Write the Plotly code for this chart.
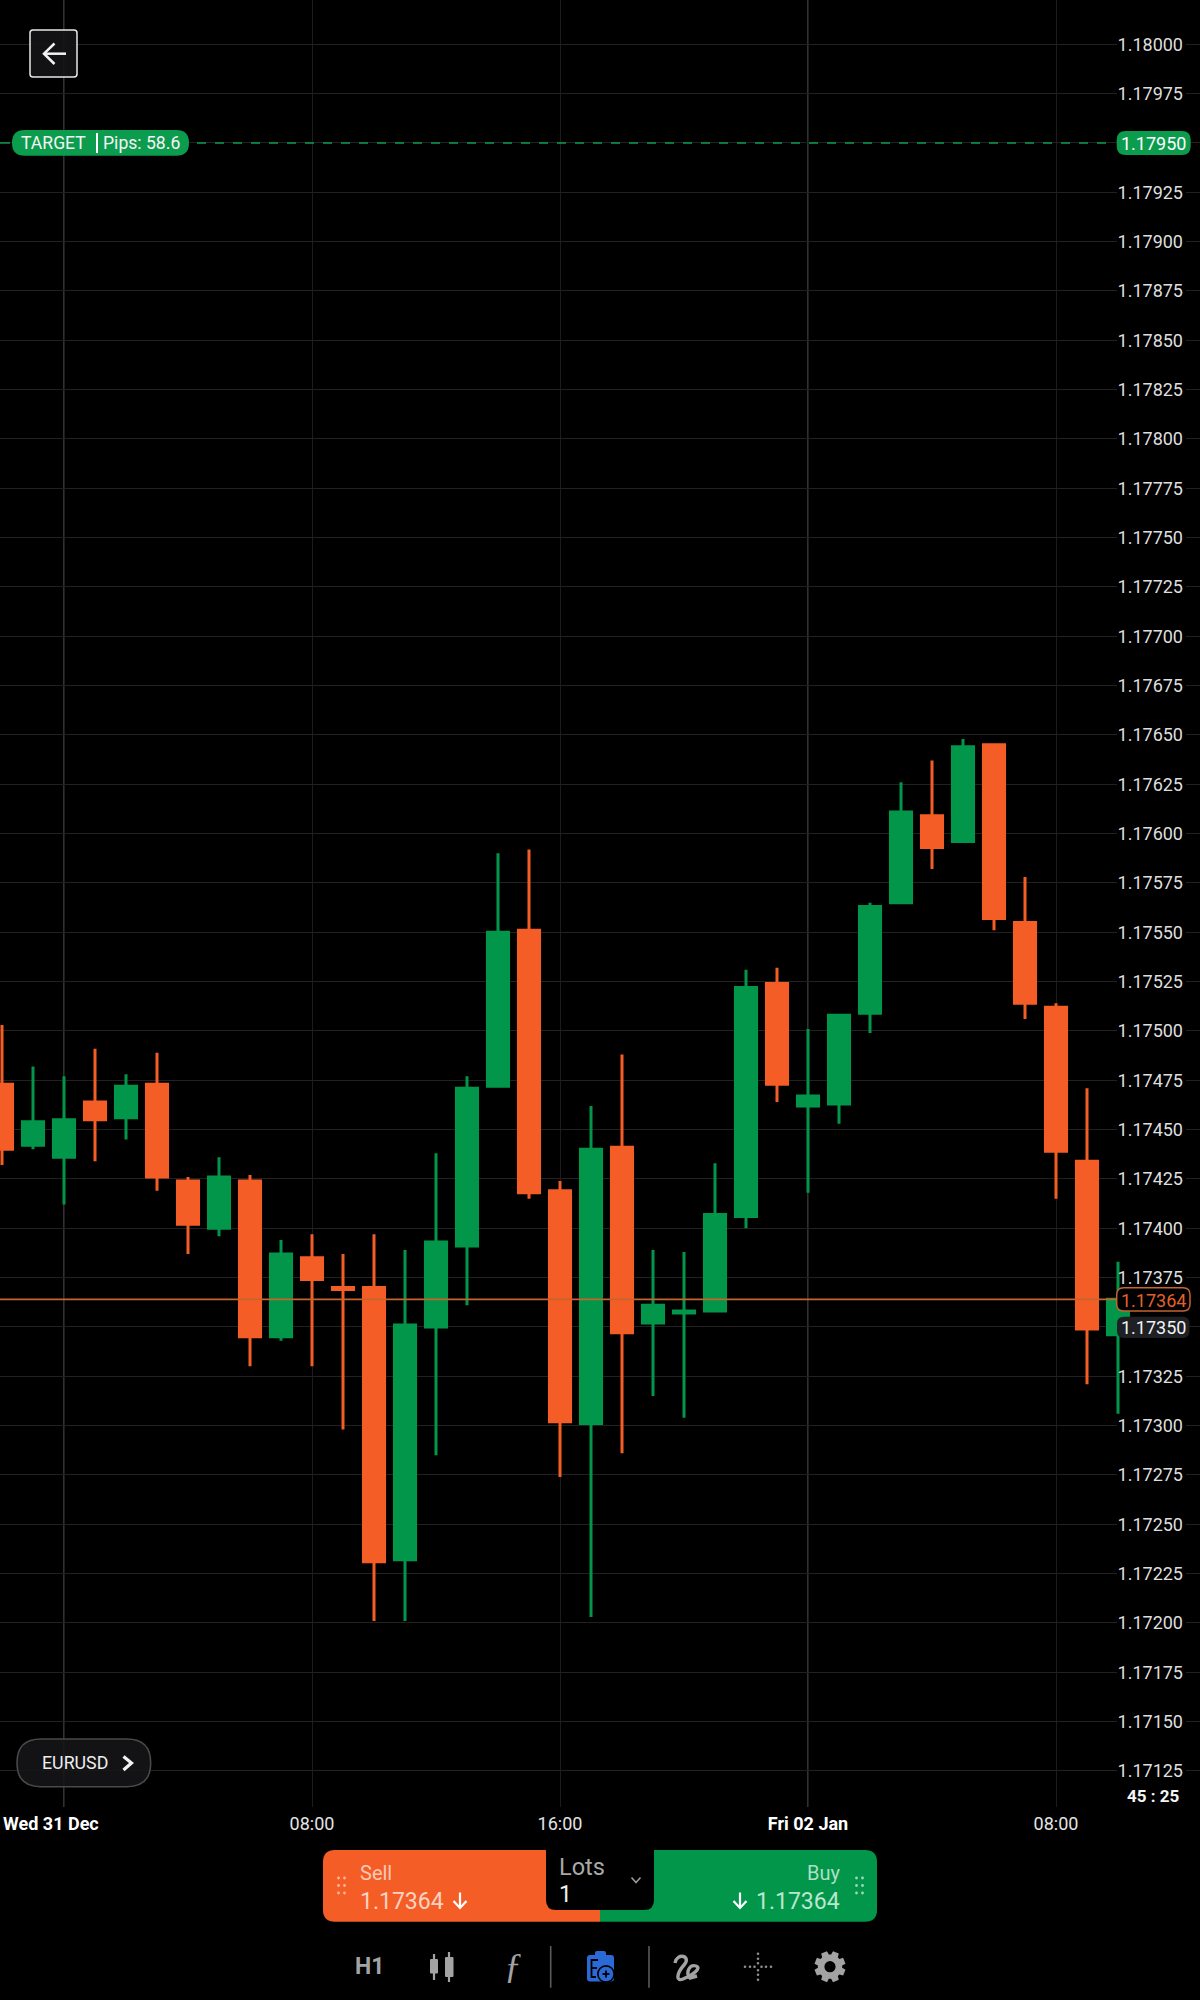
import math
import plotly.graph_objects as go

# Hourly EURUSD candles
HOUR_INDEX = list(range(37))
OPEN = [1.17473, 1.17442, 1.17436, 1.17464, 1.17456, 1.17473, 1.17424, 1.17400, 1.17424, 1.17345,
        1.17385, 1.17370, 1.17370, 1.17232, 1.17350, 1.17391, 1.17472, 1.17551, 1.17419, 1.17301,
        1.17441, 1.17352, 1.17357, 1.17358, 1.17406, 1.17524, 1.17462, 1.17463, 1.17509, 1.17565,
        1.17609, 1.17596, 1.17645, 1.17555, 1.17512, 1.17434, 1.17346]
HIGH = [1.17503, 1.17482, 1.17477, 1.17491, 1.17478, 1.17489, 1.17426, 1.17436, 1.17427, 1.17394,
        1.17397, 1.17387, 1.17397, 1.17389, 1.17438, 1.17477, 1.17590, 1.17592, 1.17424, 1.17462,
        1.17488, 1.17389, 1.17388, 1.17433, 1.17531, 1.17532, 1.17501, 1.17508, 1.17565, 1.17626,
        1.17637, 1.17648, 1.17645, 1.17578, 1.17514, 1.17471, 1.17383]
LOW = [1.17432, 1.17440, 1.17412, 1.17434, 1.17445, 1.17419, 1.17387, 1.17396, 1.17330, 1.17343,
       1.17330, 1.17298, 1.17201, 1.17201, 1.17285, 1.17361, 1.17472, 1.17415, 1.17274, 1.17203,
       1.17286, 1.17315, 1.17304, 1.17358, 1.17400, 1.17464, 1.17418, 1.17453, 1.17499, 1.17565,
       1.17582, 1.17596, 1.17551, 1.17506, 1.17415, 1.17321, 1.17306]
CLOSE = [1.17440, 1.17454, 1.17455, 1.17455, 1.17472, 1.17426, 1.17402, 1.17426, 1.17345, 1.17387,
         1.17374, 1.17369, 1.17231, 1.17351, 1.17393, 1.17471, 1.17550, 1.17418, 1.17302, 1.17440,
         1.17347, 1.17361, 1.17358, 1.17407, 1.17522, 1.17473, 1.17467, 1.17508, 1.17563, 1.17611,
         1.17593, 1.17644, 1.17557, 1.17514, 1.17439, 1.17349, 1.17364]

PRICE_TICKS = [1.18000, 1.17975, 1.17950, 1.17925, 1.17900, 1.17875, 1.17850, 1.17825, 1.17800,
               1.17775, 1.17750, 1.17725, 1.17700, 1.17675, 1.17650, 1.17625, 1.17600, 1.17575,
               1.17550, 1.17525, 1.17500, 1.17475, 1.17450, 1.17425, 1.17400, 1.17375, 1.17350,
               1.17325, 1.17300, 1.17275, 1.17250, 1.17225, 1.17200, 1.17175, 1.17150, 1.17125]
BADGED_TICKS = [1.17950, 1.17350]
TIME_TICKS = [2, 10, 18, 26, 34]
TIME_LABELS = ["", "08:00", "16:00", "<b><span style='color:#ffffff'>Fri 02 Jan</span></b>", "08:00"]
DAY_STARTS = [2, 26]

CURRENT_PRICE = 1.17364
TARGET_PRICE = 1.17950

ORANGE = "#F45E26"
GREEN = "#02964A"
PILL_GREEN = "#0C9C4E"
GRID = "#212121"
FONT = "Roboto"

W, H = 1200, 2000
PLOT_H = 1807
Y_RANGE = [1.171067, 1.1802245]
X_RANGE = [-2 / 31, 1198 / 31]


def px(x):
    return x / W


def py(y):
    return 1 - y / PLOT_H


def rounded(x0, y0, x1, y1, r):
    """Closed rounded-rectangle path in page pixels; r is (tl, tr, br, bl) or one radius."""
    tl, tr, br, bl = (r, r, r, r) if isinstance(r, (int, float)) else r
    pts = [
        f"M{px(x0 + tl)},{py(y0)}", f"L{px(x1 - tr)},{py(y0)}",
        f"Q{px(x1)},{py(y0)} {px(x1)},{py(y0 + tr)}", f"L{px(x1)},{py(y1 - br)}",
        f"Q{px(x1)},{py(y1)} {px(x1 - br)},{py(y1)}", f"L{px(x0 + bl)},{py(y1)}",
        f"Q{px(x0)},{py(y1)} {px(x0)},{py(y1 - bl)}", f"L{px(x0)},{py(y0 + tl)}",
        f"Q{px(x0)},{py(y0)} {px(x0 + tl)},{py(y0)}", "Z",
    ]
    return " ".join(pts)


def poly(points, close=False):
    body = " ".join(("M" if i == 0 else "L") + f"{px(x)},{py(y)}" for i, (x, y) in enumerate(points))
    return body + (" Z" if close else "")


shapes = []
annotations = []


def box(x0, y0, x1, y1, r, fill, line=None, width=0):
    shapes.append(dict(type="path", xref="paper", yref="paper", layer="above", path=rounded(x0, y0, x1, y1, r),
                       fillcolor=fill, line=dict(color=line or fill, width=width)))


def stroke(points, color, width):
    shapes.append(dict(type="path", xref="paper", yref="paper", layer="above", path=poly(points),
                       fillcolor="rgba(0,0,0,0)", line=dict(color=color, width=width)))


def dot(x, y, r, color):
    shapes.append(dict(type="circle", xref="paper", yref="paper", layer="above",
                       x0=px(x - r), x1=px(x + r), y0=py(y + r), y1=py(y - r),
                       fillcolor=color, line=dict(width=0)))


def label(text, x, y, size, color, anchor="left", family=FONT):
    annotations.append(dict(text=text, x=px(x), y=py(y), xref="paper", yref="paper", xanchor=anchor,
                            yanchor="middle", showarrow=False, borderpad=0,
                            font=dict(family=family, size=size, color=color)))


def to_x(pixel):
    return X_RANGE[0] + pixel / W * (X_RANGE[1] - X_RANGE[0])


# Blank strip behind the price scale; it cuts the gridlines but stays under the candles
shapes.append(dict(type="rect", xref="x", yref="y", layer="between", x0=to_x(1117), x1=to_x(1186),
                   y0=Y_RANGE[0], y1=Y_RANGE[1], fillcolor="#000000", line=dict(width=0)))

# Day separators
for d in DAY_STARTS:
    shapes.append(dict(type="line", xref="x", yref="paper", layer="between", x0=d, x1=d, y0=0, y1=1,
                       line=dict(color="#424242", width=1.5)))

# Current price line and target line
shapes.append(dict(type="line", xref="paper", yref="y", layer="above", x0=0, x1=px(1117),
                   y0=CURRENT_PRICE, y1=CURRENT_PRICE, line=dict(color="#C4642F", width=1.8)))
shapes.append(dict(type="line", xref="paper", yref="y", layer="above", x0=px(197), x1=px(1108),
                   y0=TARGET_PRICE, y1=TARGET_PRICE, line=dict(color=PILL_GREEN, width=1.5, dash="9px,9px")))
shapes.append(dict(type="line", xref="paper", yref="y", layer="above", x0=0, x1=px(10),
                   y0=TARGET_PRICE, y1=TARGET_PRICE, line=dict(color=PILL_GREEN, width=1.5)))

# Back button
box(30, 30, 77, 77, 3, "rgba(20,20,23,0.92)", "#E8E8E8", 1.5)
stroke([(66, 53.7), (44, 53.7)], "#F2F2F2", 2.5)
stroke([(54.5, 43.5), (44, 53.7), (54.5, 64)], "#F2F2F2", 2.5)

# Target badge
box(12, 130, 189, 155.7, 12.8, PILL_GREEN)
stroke([(97, 133), (97, 153)], "#FFFFFF", 2)
label("TARGET", 20, 143, 17.6, "#F4F4F4")
label("Pips: 58.6", 101.5, 143, 17.6, "#F4F4F4")

# Price scale badges
box(1116.7, 131, 1190.7, 155, 9, PILL_GREEN)
label("1.17950", 1153.5, 143.5, 18, "#FFFFFF", "center")
box(1117, 1316.7, 1189.5, 1338, 7, "#1F2024")
label("1.17350", 1153.5, 1327.5, 18, "#F2F2F2", "center")
box(1116.7, 1287.7, 1190, 1311, 7, "#000000", "#C4642F", 1.5)
label("1.17364", 1153.5, 1300, 18, "#E2622A", "center")

# Symbol button
box(17, 1739, 150.7, 1786.7, 23.8, "rgba(22,22,25,0.88)", "#4A4A4A", 1.5)
label("EURUSD", 41, 1762.5, 17.8, "#EDEDED")
stroke([(123.5, 1756.5), (131.5, 1763), (123.5, 1770)], "#F2F2F2", 3.2)

# Axis footer text
label("<b>Wed 31 Dec</b>", 2, 1823, 18, "#FFFFFF")
label("<b>45 : 25</b>", 1153, 1796, 17, "#F5F5F5", "center")

# Order panel
box(323, 1850, 600, 1921.7, (12, 0, 0, 12), ORANGE)
box(600, 1850, 877, 1921.7, (0, 12, 12, 0), GREEN)
box(546, 1850, 654, 1910, (0, 0, 10, 10), "#000000")
label("Lots", 557.5, 1866.7, 23.5, "#A8A8A8")
label("1", 558, 1894.5, 23, "#F0F0F0")
stroke([(631.5, 1877.5), (636, 1882.5), (640.5, 1877.5)], "#9A9A9A", 1.6)
label("Sell", 359, 1872.5, 20, "#FCC9B4")
label("1.17364", 359, 1901, 23, "#FCD3C2")
stroke([(460, 1892.5), (460, 1907.5)], "#FFFFFF", 2.2)
stroke([(453.5, 1901), (460, 1908), (466.5, 1901)], "#FFFFFF", 2.2)
label("Buy", 841, 1872.5, 20, "#AEDFC5", "right")
label("1.17364", 841, 1901, 23, "#BCE6CF", "right")
stroke([(740, 1892.5), (740, 1907.5)], "#FFFFFF", 2.2)
stroke([(733.5, 1901), (740, 1908), (746.5, 1901)], "#FFFFFF", 2.2)
for cx, color in ((338.5, "#FBB79C"), (344.5, "#FBB79C"), (856.5, "#9ADBB9"), (862.5, "#9ADBB9")):
    for cy in (1878, 1885.5, 1893):
        dot(cx, cy, 1.4, color)

# Toolbar
ICON = "#A3A3A3"
label("<b>H1</b>", 369, 1967, 23, ICON, "center")
stroke([(434, 1954), (434, 1980)], ICON, 2.2)
box(430, 1959, 438, 1973.5, 1, ICON)
stroke([(449, 1952), (449, 1982)], ICON, 2.2)
box(445, 1957, 453.5, 1977, 1, ICON)
label("<i>ƒ</i>", 513, 1966, 36, ICON, "center", "Liberation Serif")
stroke([(550.7, 1946), (550.7, 1987.7)], "#5A5A5A", 1.6)
stroke([(649, 1946), (649, 1987.7)], "#5A5A5A", 1.6)

BLUE = "#2B6AD6"
box(587, 1955, 614, 1981.5, 3, BLUE)
box(595, 1951, 606, 1958, 2, BLUE)
stroke([(598, 1960), (591.5, 1960), (591.5, 1977), (596, 1977)], "#000000", 1.8)
stroke([(592, 1968), (597, 1968)], "#000000", 1.8)
dot(606, 1974, 9, "#000000")
dot(606, 1974, 7.3, BLUE)
stroke([(602.5, 1974), (609.5, 1974)], "#000000", 1.8)
stroke([(606, 1970.5), (606, 1977.5)], "#000000", 1.8)

shapes.append(dict(type="path", xref="paper", yref="paper", layer="above", fillcolor="rgba(0,0,0,0)",
                   line=dict(color=ICON, width=3.4),
                   path=(f"M{px(675)},{py(1963)} C{px(677)},{py(1952)} {px(692)},{py(1956)} {px(684)},{py(1965)} "
                         f"C{px(676)},{py(1974)} {px(676)},{py(1982)} {px(683)},{py(1979)} "
                         f"C{px(693)},{py(1975)} {px(702)},{py(1968)} {px(696)},{py(1966)} "
                         f"C{px(690)},{py(1964)} {px(685)},{py(1972)} {px(690)},{py(1978)} L{px(697)},{py(1976)}")))

for off in (-13, -8, -3.5, 3.5, 8, 13):
    dot(758 + off, 1966.7, 1.3, "#8E8E8E")
    dot(758, 1966.7 + off, 1.3, "#8E8E8E")

gear = []
for k in range(8):
    a = k * math.pi / 4 - math.pi / 8
    for delta, radius in ((-0.30, 12.2), (-0.20, 15.8), (0.20, 15.8), (0.30, 12.2)):
        gear.append((830 + radius * math.cos(a + delta), 1966.7 + radius * math.sin(a + delta)))
shapes.append(dict(type="path", xref="paper", yref="paper", layer="above", path=poly(gear, close=True),
                   fillcolor=ICON, line=dict(width=0)))
dot(830, 1966.7, 5.6, "#000000")

fig = go.Figure(go.Candlestick(
    x=HOUR_INDEX, open=OPEN, high=HIGH, low=LOW, close=CLOSE,
    increasing=dict(line=dict(color=GREEN, width=3), fillcolor=GREEN),
    decreasing=dict(line=dict(color=ORANGE, width=3), fillcolor=ORANGE),
    whiskerwidth=0, showlegend=False, hoverinfo="skip",
))

fig.update_layout(
    width=W, height=H,
    margin=dict(l=0, r=0, t=0, b=H - PLOT_H, pad=0),
    paper_bgcolor="#000000", plot_bgcolor="#000000",
    boxgap=0.32, boxgroupgap=0,
    showlegend=False,
    shapes=shapes,
    annotations=annotations,
    font=dict(family=FONT),
    xaxis=dict(
        range=X_RANGE, rangeslider=dict(visible=False), tickmode="array", tickvals=TIME_TICKS,
        ticktext=TIME_LABELS, showgrid=True, gridcolor="#1C1C1C", gridwidth=1, zeroline=False, showline=False,
        ticks="", tickfont=dict(family=FONT, size=18, color="#E4E4E4"), tickangle=0, ticklabelstandoff=4,
    ),
    yaxis=dict(
        range=Y_RANGE, side="right", tickmode="array", tickvals=PRICE_TICKS,
        ticktext=["" if v in BADGED_TICKS else f"{v:.5f}" for v in PRICE_TICKS],
        showgrid=True, gridcolor=GRID, gridwidth=1, zeroline=False,
        showline=False, ticks="", ticklabelposition="inside", ticklabelstandoff=14,
        tickfont=dict(family=FONT, size=18, color="#DEDEDE"),
    ),
)

fig.write_html("out.html", config=dict(displayModeBar=False))
